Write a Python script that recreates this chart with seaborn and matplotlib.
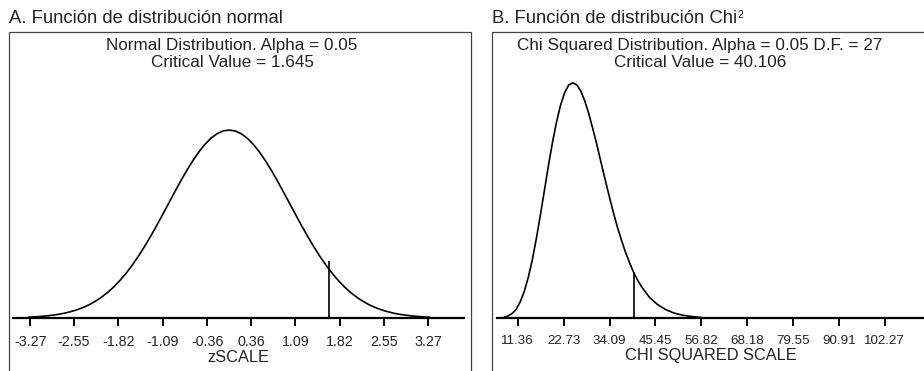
import matplotlib
matplotlib.use("Agg")
import matplotlib.pyplot as plt
from matplotlib.patches import Rectangle
import seaborn as sns
import pandas as pd

# ---------------- data ----------------
z_values = [-3.3, -3.2, -3.1, -3.0, -2.9, -2.8, -2.7, -2.6, -2.5, -2.4, -2.3, -2.2,
            -2.1, -2.0, -1.9, -1.8, -1.7, -1.6, -1.5, -1.4, -1.3, -1.2, -1.1, -1.0,
            -0.9, -0.8, -0.7, -0.6, -0.5, -0.4, -0.3, -0.2, -0.1, 0.0,
            0.1, 0.2, 0.3, 0.4, 0.5, 0.6, 0.7, 0.8, 0.9, 1.0, 1.1, 1.2, 1.3, 1.4,
            1.5, 1.6, 1.7, 1.8, 1.9, 2.0, 2.1, 2.2, 2.3, 2.4, 2.5, 2.6, 2.7, 2.8,
            2.9, 3.0, 3.1, 3.2, 3.3]
normal_density = [0.0017, 0.0024, 0.0033, 0.0044, 0.0060, 0.0079, 0.0104, 0.0136,
                  0.0175, 0.0224, 0.0283, 0.0355, 0.0440, 0.0540, 0.0656, 0.0790,
                  0.0940, 0.1109, 0.1295, 0.1497, 0.1714, 0.1942, 0.2179, 0.2420,
                  0.2661, 0.2897, 0.3123, 0.3332, 0.3521, 0.3683, 0.3814, 0.3910,
                  0.3970, 0.3989,
                  0.3970, 0.3910, 0.3814, 0.3683, 0.3521, 0.3332, 0.3123, 0.2897,
                  0.2661, 0.2420, 0.2179, 0.1942, 0.1714, 0.1497, 0.1295, 0.1109,
                  0.0940, 0.0790, 0.0656, 0.0540, 0.0440, 0.0355, 0.0283, 0.0224,
                  0.0175, 0.0136, 0.0104, 0.0079, 0.0060, 0.0044, 0.0033, 0.0024,
                  0.0017]
z_ticks = [-3.27, -2.55, -1.82, -1.09, -0.36, 0.36, 1.09, 1.82, 2.55, 3.27]
z_tick_labels = ["-3.27", "-2.55", "-1.82", "-1.09", "-0.36", "0.36", "1.09",
                 "1.82", "2.55", "3.27"]
z_critical = 1.645
z_critical_top = 0.121

chi_values = [8, 9, 10, 11, 12, 13, 14, 15, 16, 17, 18, 19, 20, 21, 22, 23, 24, 25,
              26, 27, 28, 29, 30, 31, 32, 33, 34, 35, 36, 37, 38, 39, 40, 41, 42,
              44, 46, 48, 50, 52, 54, 56, 57]
chi_density = [0.0002, 0.0005, 0.0011, 0.0021, 0.0039, 0.0064, 0.0098, 0.0140,
               0.0191, 0.0247, 0.0306, 0.0365, 0.0420, 0.0468, 0.0508, 0.0537,
               0.0555, 0.0560, 0.0555, 0.0540, 0.0516, 0.0485, 0.0449, 0.0411,
               0.0370, 0.0330, 0.0291, 0.0253, 0.0218, 0.0187, 0.0158, 0.0133,
               0.0110, 0.0091, 0.0075, 0.0049, 0.0032, 0.0020, 0.0012, 0.0007,
               0.0004, 0.0002, 0.0001]
chi_ticks = [11.36, 22.73, 34.09, 45.45, 56.82, 68.18, 79.55, 90.91, 102.27]
chi_tick_labels = ["11.36", "22.73", "34.09", "45.45", "56.82", "68.18", "79.55",
                   "90.91", "102.27"]
chi_critical = 40.106
chi_critical_top = 0.0110

panel_titles = ["A. Función de distribución normal", "B. Función de distribución Chi"]
inner_line1 = ["Normal Distribution. Alpha = 0.05",
               "Chi Squared Distribution. Alpha = 0.05 D.F. = 27"]
inner_line2 = ["Critical Value = 1.645", "Critical Value = 40.106"]
x_labels = ["zSCALE", "CHI SQUARED SCALE"]

# ---------------- figure ----------------
sns.set_style("white")
plt.rcParams["font.family"] = ["Liberation Sans", "DejaVu Sans"]

W, H = 924, 371
fig = plt.figure(figsize=(W / 100, H / 100), dpi=100)


def fx(px):
    return px / W


def fy(py):
    return (H - py) / H


def make_axes(x0, x1, ytop, ybase):
    return fig.add_axes([fx(x0), fy(ybase), fx(x1) - fx(x0), (ybase - ytop) / H])


axA = make_axes(13, 464, 32, 318)
axB = make_axes(497, 924, 32, 318)

dfA = pd.DataFrame({"z": z_values, "density": normal_density})
dfB = pd.DataFrame({"chi": chi_values, "density": chi_density})

sns.lineplot(data=dfA, x="z", y="density", ax=axA, color="black", linewidth=1.2,
             sort=False)
sns.lineplot(data=dfB, x="chi", y="density", ax=axB, color="black", linewidth=1.2,
             sort=False)

axA.vlines(z_critical, 0, z_critical_top, color="black", linewidth=1.2)
axB.vlines(chi_critical, 0, chi_critical_top, color="black", linewidth=1.2)

axA.set_xlim(-3.554, 3.863)
axA.set_ylim(0, 0.607)
axB.set_xlim(6.22, 112.0)
axB.set_ylim(0, 0.0681)

for ax, ticks, labels, xl, fs in [(axA, z_ticks, z_tick_labels, x_labels[0], 10.3),
                                  (axB, chi_ticks, chi_tick_labels, x_labels[1], 9.6)]:
    ax.set_xticks(ticks)
    ax.set_xticklabels(labels, fontsize=fs, color="#222222")
    ax.set_yticks([])
    ax.set_ylabel("")
    ax.set_xlabel(xl, fontsize=11.8, color="#222222", labelpad=0.5)
    for s in ["left", "right", "top"]:
        ax.spines[s].set_visible(False)
    ax.spines["bottom"].set_linewidth(1.6)
    ax.spines["bottom"].set_color("black")
    ax.tick_params(axis="x", direction="out", length=5.5, width=1.4, color="black",
                   pad=7, bottom=True)
    ax.patch.set_alpha(0)

# panel boxes
for x0, x1 in [(8.5, 471), (492, 932)]:
    fig.add_artist(Rectangle((fx(x0), fy(380)), fx(x1) - fx(x0), fy(32) - fy(380),
                             transform=fig.transFigure, fill=False,
                             edgecolor="#444444", linewidth=0.9, clip_on=False))

# titles
fig.text(fx(9), fy(23.3), panel_titles[0], fontsize=13.3, color="#222222",
         va="baseline", ha="left")
tB = fig.text(fx(492), fy(23.3), panel_titles[1], fontsize=13.3, color="#222222",
              va="baseline", ha="left")
fig.canvas.draw()
bb = tB.get_window_extent()
fig.text(bb.x1 / W + 0.0008, fy(17.5), "2", fontsize=7.5, color="#222222",
         va="baseline", ha="left")

# inner texts
for cx, l1, l2 in [(232, inner_line1[0], inner_line2[0]),
                   (700, inner_line1[1], inner_line2[1])]:
    fig.text(fx(cx), fy(50), l1, fontsize=12.3, color="#222222",
             va="baseline", ha="center")
    fig.text(fx(cx), fy(67), l2, fontsize=12.3, color="#222222",
             va="baseline", ha="center")

fig.savefig("out.png", dpi=100, facecolor="white")
